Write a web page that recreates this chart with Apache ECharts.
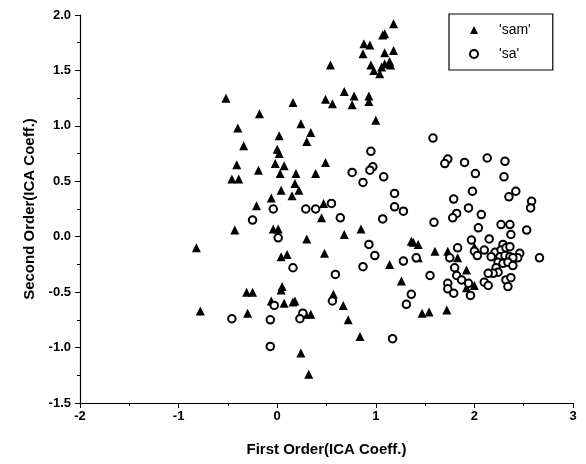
<!DOCTYPE html>
<html>
<head>
<meta charset="utf-8">
<script src="https://cdn.jsdelivr.net/npm/echarts@6/dist/echarts.min.js"></script>
<style>
  html, body { margin: 0; padding: 0; background: #fff; }
  #chart { width: 586px; height: 464px; }
</style>
</head>
<body>
<div id="chart"></div>
<script>
// 'sam' points (First Order, Second Order)
var samPoints = [
  [1.18,1.92],[1.09,1.83],[1.07,1.82],[0.88,1.74],[0.94,1.73],[0.87,1.65],[1.09,1.66],[1.18,1.68],
  [0.54,1.55],[0.95,1.55],[0.98,1.50],[1.09,1.56],[1.14,1.58],[1.15,1.55],[1.06,1.53],[1.04,1.47],
  [0.68,1.31],[0.78,1.27],[0.93,1.27],[0.93,1.22],[0.49,1.24],[0.56,1.20],[0.76,1.19],[0.16,1.21],
  [1.00,1.05],[0.24,1.02],[0.34,0.94],[0.02,0.91],[-0.52,1.25],[-0.18,1.11],[-0.40,0.98],[-0.34,0.82],
  [0.00,0.79],[0.02,0.75],[-0.41,0.65],[-0.19,0.60],[-0.02,0.66],[0.07,0.64],[0.03,0.57],[-0.46,0.52],
  [-0.39,0.52],[0.04,0.42],[-0.06,0.35],[-0.21,0.28],[-0.43,0.06],[-0.04,0.07],[0.01,0.07],[-0.82,-0.10],
  [0.04,-0.18],[0.30,0.86],[0.49,0.67],[0.19,0.57],[0.39,0.57],[0.18,0.48],[0.22,0.42],[0.15,0.37],
  [0.47,0.30],[0.45,0.17],[0.85,0.07],[0.68,0.02],[0.30,-0.02],[0.48,-0.15],[0.10,-0.16],[1.14,-0.25],
  [1.36,-0.04],[1.38,-0.05],[1.43,-0.07],[1.60,-0.13],[1.43,-0.19],[1.83,-0.19],[1.73,-0.13],[2.00,-0.09],
  [1.92,-0.30],[2.00,-0.44],[1.92,-0.46],[1.72,-0.66],[1.26,-0.40],[0.05,-0.45],[0.04,-0.48],[0.07,-0.60],
  [0.16,-0.59],[0.18,-0.58],[0.57,-0.52],[0.67,-0.62],[0.29,-0.70],[0.34,-0.70],[0.72,-0.75],[0.84,-0.90],
  [0.24,-1.05],[0.32,-1.24],[1.47,-0.69],[1.54,-0.68],[-0.78,-0.67],[-0.31,-0.50],[-0.25,-0.50],[-0.30,-0.69],
  [-0.06,-0.58]
];

// 'sa' points
var saPoints = [
  [1.58,0.89],[0.95,0.77],[1.73,0.70],[1.70,0.66],[1.90,0.67],[2.13,0.71],[2.31,0.68],[0.76,0.58],
  [0.97,0.63],[0.94,0.60],[0.87,0.49],[1.08,0.54],[2.01,0.57],[2.30,0.54],[1.19,0.39],[1.98,0.41],
  [2.42,0.41],[2.35,0.36],[1.79,0.34],[2.58,0.32],[2.57,0.26],[1.94,0.26],[1.19,0.27],[1.28,0.23],
  [1.82,0.21],[1.78,0.17],[2.07,0.20],[1.07,0.16],[1.59,0.13],[-0.04,0.25],[0.29,0.25],[0.39,0.25],
  [0.55,0.30],[0.64,0.17],[-0.25,0.15],[0.01,-0.01],[0.93,-0.07],[0.99,-0.17],[1.28,-0.22],[1.41,-0.19],
  [1.75,-0.19],[1.83,-0.10],[1.97,-0.03],[0.16,-0.28],[0.87,-0.27],[1.80,-0.28],[2.27,0.11],[2.36,0.11],
  [2.04,0.08],[2.53,0.06],[2.37,0.02],[2.15,-0.02],[2.00,-0.13],[2.03,-0.17],[2.10,-0.12],[2.21,-0.14],
  [2.17,-0.18],[2.29,-0.07],[2.27,-0.12],[2.32,-0.10],[2.36,-0.09],[2.46,-0.15],[2.44,-0.19],[2.26,-0.18],
  [2.31,-0.17],[2.36,-0.18],[2.39,-0.19],[2.24,-0.23],[2.29,-0.24],[2.34,-0.23],[2.39,-0.26],[2.22,-0.28],
  [2.24,-0.32],[2.19,-0.33],[2.14,-0.33],[2.66,-0.19],[1.82,-0.35],[1.87,-0.39],[1.94,-0.42],[1.73,-0.42],
  [1.73,-0.47],[1.79,-0.51],[1.96,-0.53],[2.10,-0.41],[2.14,-0.44],[2.32,-0.39],[2.37,-0.37],[2.34,-0.45],
  [0.59,-0.34],[1.55,-0.35],[-0.03,-0.62],[0.56,-0.58],[0.26,-0.69],[0.23,-0.74],[-0.07,-0.75],[1.17,-0.92],
  [-0.07,-0.99],[1.36,-0.52],[1.31,-0.61],[-0.46,-0.74]
];

var seriesNames = ["'sam'", "'sa'"];
var xName = 'First Order(ICA Coeff.)';
var yName = 'Second Order(ICA Coeff.)';

var chart = echarts.init(document.getElementById('chart'));
var font = 'Liberation Sans, Arial, sans-serif';
var option = {
  animation: false,
  backgroundColor: '#fff',
  grid: { left: 80, right: 13, top: 15, bottom: 61 },
  legend: {
    orient: 'vertical',
    left: 449, top: 14,
    padding: [9, 22, 9, 20],
    itemGap: 10,
    itemWidth: 8, itemHeight: 8,
    borderColor: '#000', borderWidth: 1.2,
    textStyle: { color: '#000', fontFamily: font, fontSize: 14, padding: [0, 0, 0, 16] },
    data: seriesNames
  },
  xAxis: {
    type: 'value', min: -2, max: 3, interval: 1,
    name: xName, nameLocation: 'middle', nameGap: 39,
    nameTextStyle: { color: '#000', fontFamily: font, fontSize: 15, fontWeight: 'bold' },
    axisLine: { onZero: false, lineStyle: { color: '#000', width: 1.2 } },
    axisTick: { inside: false, length: 5, lineStyle: { color: '#000' } },
    minorTick: { show: true, splitNumber: 2, length: 3, lineStyle: { color: '#000' } },
    axisLabel: { color: '#000', fontFamily: font, fontSize: 13, fontWeight: 'bold', margin: 7 },
    splitLine: { show: false }
  },
  yAxis: {
    type: 'value', min: -1.5, max: 2, interval: 0.5,
    name: yName, nameLocation: 'middle', nameGap: 40,
    nameTextStyle: { color: '#000', fontFamily: font, fontSize: 15, fontWeight: 'bold' },
    axisLine: { onZero: false, lineStyle: { color: '#000', width: 1.2 } },
    axisTick: { inside: false, length: 5, lineStyle: { color: '#000' } },
    minorTick: { show: true, splitNumber: 2, length: 3, lineStyle: { color: '#000' } },
    axisLabel: {
      color: '#000', fontFamily: font, fontSize: 13, fontWeight: 'bold', margin: 9,
      formatter: function (v) { return v.toFixed(1); }
    },
    splitLine: { show: false }
  },
  series: [
    {
      name: seriesNames[0], type: 'scatter', symbol: 'triangle', symbolSize: 9,
      itemStyle: { color: '#000', opacity: 1 },
      data: samPoints
    },
    {
      name: seriesNames[1], type: 'scatter', symbol: 'emptyCircle', symbolSize: 7.5,
      itemStyle: { color: '#000', borderColor: '#000', borderWidth: 1.6, opacity: 1 },
      data: saPoints
    }
  ]
};
chart.setOption(option);
</script>
</body>
</html>
